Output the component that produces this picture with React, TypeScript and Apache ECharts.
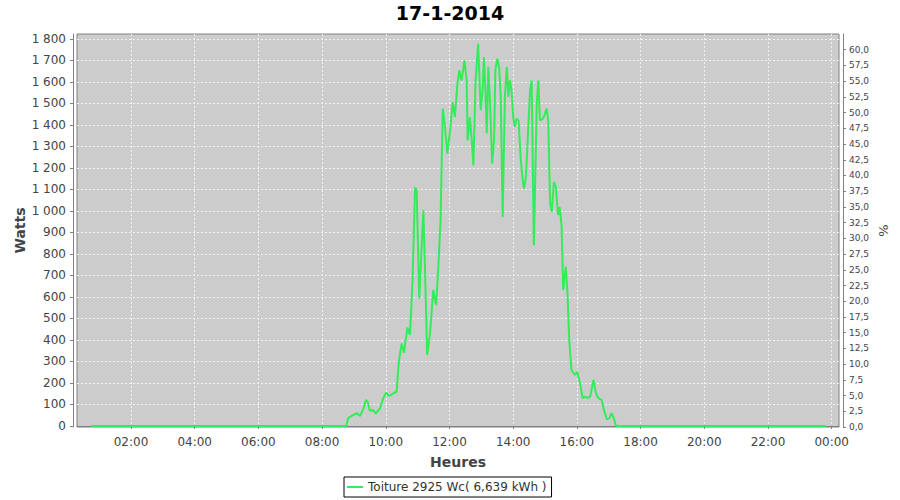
import React, { useEffect, useRef } from 'react';
import * as echarts from 'echarts';

const chartTitle = '17-1-2014';
const seriesName = 'Toiture 2925 Wc( 6,639 kWh )';
const xAxisName = 'Heures';
const leftAxisName = 'Watts';
const rightAxisName = '%';

// time of day in decimal hours
const hours = [
  0.74, 8.76, 8.82, 8.98, 9.09, 9.19, 9.29, 9.38, 9.43, 9.50,
  9.59, 9.69, 9.82, 9.92, 10.01, 10.11, 10.24, 10.34, 10.41, 10.50,
  10.57, 10.68, 10.76, 10.84, 10.92, 10.97, 11.05, 11.18, 11.23, 11.30,
  11.39, 11.49, 11.58, 11.65, 11.72, 11.79, 11.86, 11.93, 12.02, 12.10,
  12.17, 12.25, 12.31, 12.38, 12.47, 12.54, 12.57, 12.64, 12.70, 12.75,
  12.82, 12.90, 12.98, 13.04, 13.08, 13.12, 13.17, 13.22, 13.27, 13.34,
  13.40, 13.44, 13.50, 13.56, 13.61, 13.67, 13.74, 13.80, 13.85, 13.90,
  13.95, 14.00, 14.05, 14.11, 14.17, 14.24, 14.30, 14.34, 14.40, 14.47,
  14.53, 14.58, 14.65, 14.74, 14.79, 14.84, 14.94, 15.05, 15.10, 15.16,
  15.21, 15.28, 15.34, 15.41, 15.46, 15.52, 15.57, 15.65, 15.70, 15.76,
  15.83, 15.94, 16.01, 16.10, 16.18, 16.25, 16.33, 16.42, 16.52, 16.60,
  16.67, 16.78, 16.85, 16.94, 17.02, 17.09, 17.16, 17.23, 23.82,
];

// power in watts
const watts = [
  0, 0, 36, 51, 59, 46, 77, 121, 113, 71,
  74, 59, 82, 129, 155, 139, 152, 159, 299, 384,
  340, 458, 423, 678, 1110, 1096, 593, 1003, 740, 330,
  430, 632, 562, 740, 957, 1476, 1390, 1267, 1375, 1506,
  1437, 1592, 1654, 1607, 1700, 1607, 1328, 1437, 1328, 1212,
  1607, 1778, 1468, 1561, 1715, 1592, 1360, 1670, 1514, 1220,
  1330, 1654, 1708, 1669, 1530, 972, 1530, 1669, 1530, 1607,
  1561, 1437, 1390, 1429, 1420, 1235, 1143, 1104, 1158, 1375,
  1561, 1607, 841, 1499, 1607, 1421, 1429, 1476, 1421, 1034,
  995, 1135, 1112, 980, 1018, 934, 632, 740, 632, 400,
  260, 237, 252, 198, 129, 137, 129, 137, 214, 152,
  129, 121, 74, 31, 35, 59, 36, 0, 0,
];

const FONT = 'DejaVu Sans';
const LINE_COLOR = '#33ec5a';
const AXIS_COLOR = '#808080';
const LABEL_COLOR = '#444444';

function fmtWatts(v: number): string {
  const n = Math.round(v);
  if (n >= 1000) return `${Math.floor(n / 1000)} ${String(n % 1000).padStart(3, '0')}`;
  return String(n);
}

function fmtHour(v: number): string {
  const h = Math.round(v) % 24;
  return `${String(h).padStart(2, '0')}:00`;
}

export default function App() {
  const ref = useRef<HTMLDivElement>(null);
  useEffect(() => {
    if (!ref.current) return;
    const chart = echarts.init(ref.current, null, { renderer: 'svg' });
    const nameStyle = { fontFamily: FONT, fontSize: 14, fontWeight: 'bold', color: '#444444' };
    chart.setOption({
      animation: false,
      backgroundColor: '#ffffff',
      textStyle: { fontFamily: FONT },
      title: {
        text: chartTitle,
        left: 'center',
        top: 3,
        padding: 0,
        textStyle: { fontFamily: FONT, fontSize: 19, fontWeight: 'bold', color: '#000000' },
      },
      legend: {
        data: [seriesName],
        left: 344,
        top: 477,
        padding: [4, 5, 4, 3],
        borderColor: '#000000',
        borderWidth: 1,
        borderRadius: 0,
        icon: 'rect',
        itemWidth: 16,
        itemHeight: 2,
        textStyle: { fontFamily: FONT, fontSize: 12, color: '#333333' },
      },
      grid: {
        left: 77,
        right: 61,
        top: 34,
        bottom: 73,
        show: true,
        backgroundColor: '#cccccc',
        borderColor: AXIS_COLOR,
        borderWidth: 1,
      },
      xAxis: {
        type: 'value',
        min: 0.305,
        max: 24.23,
        splitNumber: 12,
        offset: 4,
        name: xAxisName,
        nameLocation: 'middle',
        nameGap: 24,
        nameMoveOverlap: false,
        nameTextStyle: nameStyle,
        axisLine: { show: true, lineStyle: { color: AXIS_COLOR } },
        axisTick: { show: true, length: 3, lineStyle: { color: AXIS_COLOR } },
        axisLabel: {
          margin: 5,
          showMinLabel: false,
          showMaxLabel: false,
          fontFamily: FONT,
          fontSize: 12,
          color: LABEL_COLOR,
          formatter: (v: number) => fmtHour(v),
        },
        splitLine: {
          show: true,
          showMinLine: false,
          showMaxLine: false,
          lineStyle: { color: '#f2f2f2', type: [2, 2], width: 1 },
        },
      },
      yAxis: [
        {
          type: 'value',
          min: -5,
          max: 1823,
          splitNumber: 18,
          offset: 4,
          position: 'left',
          name: leftAxisName,
          nameLocation: 'middle',
          nameGap: 46,
          nameMoveOverlap: false,
          nameRotate: 90,
          nameTextStyle: nameStyle,
          axisLine: { show: true, lineStyle: { color: AXIS_COLOR } },
          axisTick: { show: true, length: 3, lineStyle: { color: AXIS_COLOR } },
          axisLabel: {
            margin: 7,
            showMinLabel: false,
            showMaxLabel: false,
            fontFamily: FONT,
            fontSize: 12,
            color: LABEL_COLOR,
            formatter: (v: number) => fmtWatts(v),
          },
          splitLine: {
            show: true,
            showMinLine: false,
            showMaxLine: false,
            lineStyle: { color: '#f2f2f2', type: [2, 2], width: 1 },
          },
        },
        {
          type: 'value',
          min: 0,
          max: 62.5,
          interval: 2.5,
          offset: 4,
          position: 'right',
          name: rightAxisName,
          nameLocation: 'middle',
          nameGap: 34,
          nameMoveOverlap: false,
          nameRotate: 90,
          nameTextStyle: { ...nameStyle, fontSize: 13, fontWeight: 'normal' },
          axisLine: { show: true, lineStyle: { color: AXIS_COLOR } },
          axisTick: { show: true, length: 3, lineStyle: { color: AXIS_COLOR } },
          axisLabel: {
            margin: 6,
            showMaxLabel: false,
            fontFamily: FONT,
            fontSize: 9,
            color: LABEL_COLOR,
            formatter: (v: number) => v.toFixed(1).replace('.', ','),
          },
          splitLine: { show: false },
        },
      ],
      series: [
        {
          type: 'line',
          name: seriesName,
          yAxisIndex: 0,
          data: hours.map((h, i) => [h, watts[i]]),
          symbol: 'none',
          lineStyle: { color: LINE_COLOR, width: 2 },
          itemStyle: { color: LINE_COLOR },
        },
      ],
    });
    return () => chart.dispose();
  }, []);
  return (
    <div
      ref={ref}
      style={{ position: 'fixed', left: 0, top: 0, width: 900, height: 500 }}
    />
  );
}
